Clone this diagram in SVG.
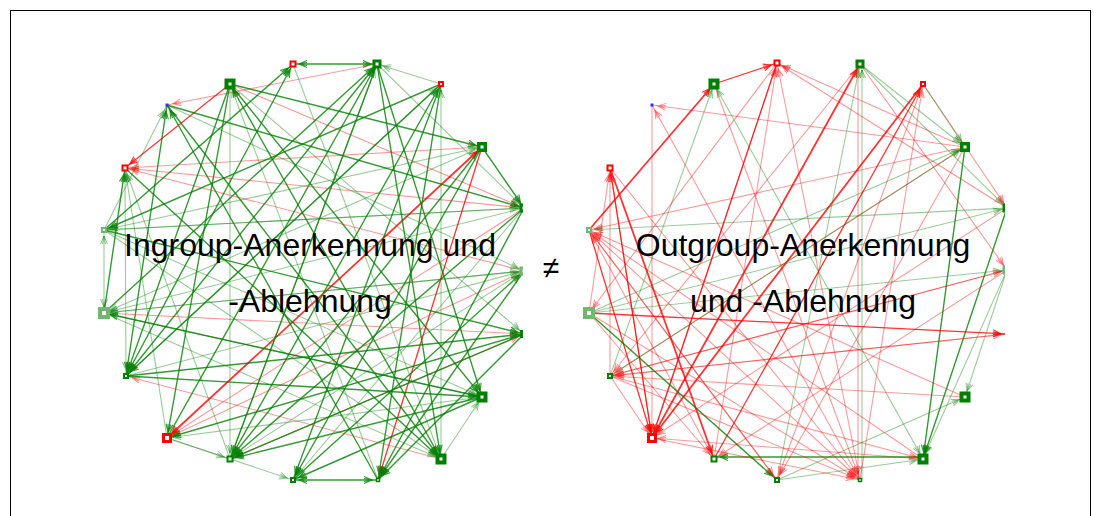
<svg xmlns="http://www.w3.org/2000/svg" width="1094" height="516" viewBox="0 0 1094 516">
<style>
  .edges line{fill:none}
  .g{stroke:#008000;stroke-opacity:.8;stroke-width:1.4;marker-end:url(#ag)}
  .gl{stroke:#008000;stroke-opacity:.4;stroke-width:1.1;marker-end:url(#agl)}
  .r{stroke:#ff0000;stroke-opacity:.8;stroke-width:1.3;marker-end:url(#ar)}
  .rl{stroke:#ff0000;stroke-opacity:.4;stroke-width:1.1;marker-end:url(#arl)}
  .g.b{marker-start:url(#ag)}
  .gl.b{marker-start:url(#agl)}
  .r.b{marker-start:url(#ar)}
  .t{stroke-width:1.8}
  .ng rect{fill:#fff;stroke:#008000}
  .nl rect{fill:#fff;stroke:#70b870}
  .nr rect{fill:#fff;stroke:#ff0000}
  .nb rect{fill:#3030ff;stroke:none}
  .lbl{font-family:"Liberation Sans",Arial,sans-serif;font-size:32px;fill:#000}
</style>
<defs>
  <marker id="ag" markerUnits="userSpaceOnUse" markerWidth="20" markerHeight="10" viewBox="-16 -5 20 10" refX="0" refY="0" orient="auto-start-reverse">
    <path d="M-14,-3.5 L-6,0 L-14,3.5 M-14,-1.5 L-6,0 L-14,1.5" fill="none" stroke="#008000" stroke-opacity=".8" stroke-width="1.1"/>
  </marker>
  <marker id="agl" markerUnits="userSpaceOnUse" markerWidth="20" markerHeight="10" viewBox="-16 -5 20 10" refX="0" refY="0" orient="auto-start-reverse">
    <path d="M-14,-3.5 L-6,0 L-14,3.5 M-14,-1.5 L-6,0 L-14,1.5" fill="none" stroke="#008000" stroke-opacity=".45" stroke-width="1"/>
  </marker>
  <marker id="ar" markerUnits="userSpaceOnUse" markerWidth="20" markerHeight="10" viewBox="-16 -5 20 10" refX="0" refY="0" orient="auto-start-reverse">
    <path d="M-14,-3.5 L-6,0 L-14,3.5 M-14,-1.5 L-6,0 L-14,1.5" fill="none" stroke="#ff0000" stroke-opacity=".8" stroke-width="1.1"/>
  </marker>
  <marker id="arl" markerUnits="userSpaceOnUse" markerWidth="20" markerHeight="10" viewBox="-16 -5 20 10" refX="0" refY="0" orient="auto-start-reverse">
    <path d="M-14,-3.5 L-6,0 L-14,3.5 M-14,-1.5 L-6,0 L-14,1.5" fill="none" stroke="#ff0000" stroke-opacity=".45" stroke-width="1"/>
  </marker>
  <clipPath id="clipL"><rect x="0" y="0" width="523" height="516"/></clipPath>
  <clipPath id="clipR"><rect x="540" y="0" width="465" height="516"/></clipPath>
</defs>

<rect x="0" y="0" width="1094" height="516" fill="#fff"/>
<rect x="10.5" y="10.5" width="1080" height="520" fill="none" stroke="#000" stroke-width="1"/>

<!-- ingroup network -->
<g id="ingroup" clip-path="url(#clipL)">
  <g id="ingroup-edges" class="edges">
    <line class="g b" x1="293" y1="64" x2="377" y2="64"/>
    <line class="rl" x1="377" y1="64" x2="167" y2="105"/>
    <line class="r" x1="230" y1="84" x2="125" y2="168"/>
    <line class="rl" x1="482" y1="147" x2="125" y2="168"/>
    <line class="rl" x1="524" y1="208" x2="125" y2="168"/>
    <line class="rl" x1="524" y1="271" x2="125" y2="168"/>
    <line class="rl" x1="230" y1="84" x2="524" y2="208"/>
    <line class="r b t" x1="167" y1="438" x2="482" y2="147"/>
    <line class="rl" x1="524" y1="208" x2="167" y2="438"/>
    <line class="rl" x1="524" y1="271" x2="167" y2="438"/>
    <line class="rl" x1="104" y1="313" x2="524" y2="334"/>
    <line class="rl" x1="230" y1="459" x2="524" y2="334"/>
    <line class="r" x1="482" y1="147" x2="378" y2="480"/>
    <line class="rl" x1="441" y1="459" x2="126" y2="376"/>
    <line class="g" x1="230" y1="84" x2="482" y2="147"/>
    <line class="gl" x1="441" y1="84" x2="377" y2="64"/>
    <line class="gl" x1="441" y1="459" x2="441" y2="84"/>
    <line class="gl" x1="230" y1="84" x2="230" y2="459"/>
    <line class="gl" x1="104" y1="230" x2="167" y2="105"/>
    <line class="g b" x1="126" y1="376" x2="167" y2="105"/>
    <line class="g" x1="378" y1="480" x2="167" y2="105"/>
    <line class="g" x1="126" y1="376" x2="482" y2="397"/>
    <line class="gl" x1="104" y1="313" x2="482" y2="397"/>
    <line class="gl" x1="104" y1="230" x2="482" y2="397"/>
    <line class="g" x1="377" y1="64" x2="482" y2="397"/>
    <line class="g" x1="230" y1="84" x2="482" y2="397"/>
    <line class="g" x1="167" y1="105" x2="441" y2="459"/>
    <line class="g" x1="125" y1="168" x2="441" y2="459"/>
    <line class="gl" x1="104" y1="230" x2="441" y2="459"/>
    <line class="gl" x1="104" y1="313" x2="441" y2="459"/>
    <line class="g" x1="377" y1="64" x2="441" y2="459"/>
    <line class="g" x1="524" y1="271" x2="378" y2="480"/>
    <line class="g" x1="524" y1="334" x2="378" y2="480"/>
    <line class="g b" x1="293" y1="480" x2="378" y2="480"/>
    <line class="g" x1="482" y1="147" x2="230" y2="459"/>
    <line class="g" x1="524" y1="208" x2="230" y2="459"/>
    <line class="gl" x1="167" y1="438" x2="230" y2="459"/>
    <line class="gl" x1="167" y1="438" x2="293" y2="480"/>
    <line class="g" x1="230" y1="84" x2="167" y2="438"/>
    <line class="g" x1="524" y1="334" x2="167" y2="438"/>
    <line class="gl" x1="482" y1="397" x2="167" y2="438"/>
    <line class="g" x1="230" y1="84" x2="126" y2="376"/>
    <line class="g" x1="377" y1="64" x2="126" y2="376"/>
    <line class="g" x1="441" y1="84" x2="126" y2="376"/>
    <line class="gl b" x1="126" y1="376" x2="125" y2="168"/>
    <line class="g" x1="104" y1="230" x2="293" y2="64"/>
    <line class="g" x1="126" y1="376" x2="293" y2="64"/>
    <line class="g" x1="104" y1="313" x2="377" y2="64"/>
    <line class="g" x1="167" y1="438" x2="377" y2="64"/>
    <line class="gl" x1="230" y1="459" x2="377" y2="64"/>
    <line class="gl" x1="126" y1="376" x2="441" y2="84"/>
    <line class="g" x1="230" y1="459" x2="441" y2="84"/>
    <line class="gl" x1="482" y1="147" x2="104" y2="313"/>
    <line class="g" x1="482" y1="147" x2="293" y2="480"/>
    <line class="gl b" x1="104" y1="230" x2="482" y2="147"/>
    <line class="g" x1="167" y1="105" x2="524" y2="208"/>
    <line class="gl" x1="104" y1="230" x2="524" y2="208"/>
    <line class="g" x1="482" y1="147" x2="524" y2="208"/>
    <line class="gl" x1="377" y1="64" x2="524" y2="208"/>
    <line class="gl" x1="104" y1="313" x2="524" y2="271"/>
    <line class="gl" x1="126" y1="376" x2="524" y2="271"/>
    <line class="g" x1="293" y1="480" x2="524" y2="271"/>
    <line class="gl" x1="167" y1="105" x2="524" y2="271"/>
    <line class="g" x1="126" y1="376" x2="524" y2="334"/>
    <line class="g" x1="104" y1="230" x2="524" y2="334"/>
    <line class="gl" x1="230" y1="84" x2="524" y2="334"/>
    <line class="gl" x1="441" y1="459" x2="482" y2="397"/>
    <line class="g" x1="441" y1="84" x2="378" y2="480"/>
    <line class="g" x1="524" y1="208" x2="378" y2="480"/>
    <line class="g" x1="441" y1="84" x2="293" y2="480"/>
    <line class="gl" x1="524" y1="208" x2="293" y2="480"/>
    <line class="g" x1="482" y1="397" x2="293" y2="480"/>
    <line class="g" x1="377" y1="64" x2="230" y2="459"/>
    <line class="gl" x1="524" y1="271" x2="230" y2="459"/>
    <line class="g" x1="482" y1="397" x2="230" y2="459"/>
    <line class="gl" x1="524" y1="208" x2="104" y2="313"/>
    <line class="g" x1="482" y1="397" x2="104" y2="313"/>
    <line class="gl" x1="524" y1="271" x2="104" y2="313"/>
    <line class="g" x1="441" y1="84" x2="104" y2="230"/>
    <line class="gl" x1="524" y1="208" x2="104" y2="230"/>
    <line class="gl b" x1="104" y1="313" x2="104" y2="230"/>
    <line class="g" x1="104" y1="313" x2="125" y2="168"/>
    <line class="gl" x1="167" y1="438" x2="125" y2="168"/>
    <line class="gl" x1="230" y1="459" x2="125" y2="168"/>
    <line class="g" x1="441" y1="459" x2="230" y2="84"/>
    <line class="gl" x1="378" y1="480" x2="230" y2="84"/>
    <line class="gl" x1="293" y1="64" x2="441" y2="459"/>
    <line class="g" x1="524" y1="334" x2="230" y2="459"/>
  </g>
  <g id="in0" class="nb"><rect x="165.5" y="103.5" width="3" height="3"/></g>
  <g id="in1" class="ng"><rect x="226.5" y="80.5" width="7" height="7" stroke-width="4"/></g>
  <g id="in2" class="nr"><rect x="290.5" y="61.5" width="5" height="5" stroke-width="2"/></g>
  <g id="in3" class="ng"><rect x="374" y="61" width="6" height="6" stroke-width="3"/></g>
  <g id="in4" class="nr"><rect x="439" y="82" width="4" height="4" stroke-width="2"/></g>
  <g id="in5" class="ng"><rect x="478.75" y="143.75" width="6.5" height="6.5" stroke-width="3.5"/></g>
  <g id="in6" class="ng"><rect x="521" y="205" width="6" height="6" stroke-width="3"/></g>
  <g id="in7" class="nl"><rect x="521" y="268" width="6" height="6" stroke-width="3"/></g>
  <g id="in8" class="ng"><rect x="521.5" y="331.5" width="5" height="5" stroke-width="3"/></g>
  <g id="in9" class="ng"><rect x="478.5" y="393.5" width="7" height="7" stroke-width="4"/></g>
  <g id="in10" class="ng"><rect x="437.5" y="455.5" width="7" height="7" stroke-width="4"/></g>
  <g id="in11" class="ng"><rect x="376.5" y="478.5" width="3" height="3" stroke-width="1.5"/></g>
  <g id="in12" class="ng"><rect x="291" y="478" width="4" height="4" stroke-width="2"/></g>
  <g id="in13" class="ng"><rect x="227.5" y="456.5" width="5" height="5" stroke-width="2"/></g>
  <g id="in14" class="nr"><rect x="163.5" y="434.5" width="7" height="7" stroke-width="3"/></g>
  <g id="in15" class="ng"><rect x="124" y="374" width="4" height="4" stroke-width="2"/></g>
  <g id="in16" class="nl"><rect x="100" y="309" width="8" height="8" stroke-width="4"/></g>
  <g id="in17" class="nl"><rect x="102" y="228" width="4" height="4" stroke-width="2"/></g>
  <g id="in18" class="nr"><rect x="122.5" y="165.5" width="5" height="5" stroke-width="2"/></g>
</g>

<!-- outgroup network -->
<g id="outgroup" clip-path="url(#clipR)">
  <g id="outgroup-edges" class="edges">
    <line class="r" x1="714" y1="84" x2="777" y2="63"/>
    <line class="rl" x1="965" y1="147" x2="652" y2="105"/>
    <line class="rl" x1="652" y1="105" x2="652" y2="438"/>
    <line class="rl" x1="860" y1="480" x2="652" y2="105"/>
    <line class="r t" x1="589" y1="230" x2="714" y2="84"/>
    <line class="gl" x1="610" y1="376" x2="714" y2="84"/>
    <line class="gl b" x1="714" y1="84" x2="923" y2="459"/>
    <line class="rl" x1="652" y1="438" x2="777" y2="63"/>
    <line class="rl" x1="714" y1="459" x2="777" y2="63"/>
    <line class="r t" x1="652" y1="438" x2="860" y2="64"/>
    <line class="rl" x1="965" y1="147" x2="777" y2="63"/>
    <line class="rl" x1="1007" y1="208" x2="777" y2="63"/>
    <line class="rl" x1="860" y1="480" x2="777" y2="63"/>
    <line class="gl" x1="777" y1="480" x2="860" y2="64"/>
    <line class="gl" x1="862" y1="480" x2="862" y2="64"/>
    <line class="rl" x1="858" y1="64" x2="858" y2="480"/>
    <line class="gl" x1="860" y1="64" x2="965" y2="147"/>
    <line class="gl" x1="860" y1="64" x2="1007" y2="208"/>
    <line class="rl" x1="860" y1="64" x2="1007" y2="270"/>
    <line class="r" x1="714" y1="459" x2="923" y2="84"/>
    <line class="rl" x1="923" y1="84" x2="1007" y2="208"/>
    <line class="gl" x1="923" y1="84" x2="965" y2="147"/>
    <line class="rl" x1="589" y1="313" x2="610" y2="168"/>
    <line class="rl" x1="610" y1="376" x2="610" y2="168"/>
    <line class="rl" x1="652" y1="438" x2="610" y2="168"/>
    <line class="gl" x1="1007" y1="208" x2="589" y2="230"/>
    <line class="rl" x1="965" y1="397" x2="589" y2="230"/>
    <line class="rl" x1="923" y1="459" x2="589" y2="230"/>
    <line class="rl" x1="777" y1="480" x2="589" y2="230"/>
    <line class="rl" x1="714" y1="459" x2="589" y2="230"/>
    <line class="rl" x1="965" y1="147" x2="589" y2="230"/>
    <line class="gl" x1="589" y1="313" x2="1007" y2="208"/>
    <line class="gl" x1="589" y1="313" x2="1007" y2="270"/>
    <line class="rl" x1="1007" y1="270" x2="610" y2="376"/>
    <line class="rl" x1="1007" y1="334" x2="610" y2="376"/>
    <line class="rl" x1="965" y1="397" x2="610" y2="376"/>
    <line class="rl" x1="965" y1="147" x2="610" y2="376"/>
    <line class="r" x1="777" y1="63" x2="652" y2="438"/>
    <line class="r t" x1="923" y1="84" x2="652" y2="438"/>
    <line class="r" x1="610" y1="168" x2="652" y2="438"/>
    <line class="r" x1="589" y1="230" x2="652" y2="438"/>
    <line class="rl" x1="610" y1="376" x2="652" y2="438"/>
    <line class="rl" x1="923" y1="459" x2="652" y2="438"/>
    <line class="r t" x1="610" y1="168" x2="714" y2="459"/>
    <line class="rl" x1="589" y1="313" x2="714" y2="459"/>
    <line class="g" x1="923" y1="457" x2="714" y2="457"/>
    <line class="g" x1="589" y1="313" x2="777" y2="480"/>
    <line class="rl" x1="589" y1="230" x2="777" y2="480"/>
    <line class="gl" x1="777" y1="480" x2="965" y2="397"/>
    <line class="gl" x1="777" y1="480" x2="923" y2="459"/>
    <line class="rl" x1="610" y1="168" x2="860" y2="480"/>
    <line class="rl" x1="589" y1="230" x2="860" y2="480"/>
    <line class="rl" x1="589" y1="313" x2="860" y2="480"/>
    <line class="rl" x1="610" y1="376" x2="860" y2="480"/>
    <line class="g" x1="965" y1="147" x2="923" y2="459"/>
    <line class="g" x1="1007" y1="208" x2="923" y2="459"/>
    <line class="gl" x1="1007" y1="270" x2="923" y2="459"/>
    <line class="rl" x1="610" y1="376" x2="923" y2="459"/>
    <line class="gl" x1="1007" y1="270" x2="965" y2="397"/>
    <line class="gl" x1="589" y1="313" x2="965" y2="147"/>
    <line class="gl" x1="610" y1="376" x2="965" y2="147"/>
    <line class="rl" x1="610" y1="376" x2="1007" y2="270"/>
    <line class="r" x1="589" y1="313" x2="1007" y2="334"/>
    <line class="rl" x1="777" y1="63" x2="589" y2="313"/>
    <line class="rl" x1="860" y1="64" x2="610" y2="376"/>
    <line class="rl" x1="923" y1="84" x2="777" y2="480"/>
    <line class="rl" x1="965" y1="147" x2="777" y2="480"/>
    <line class="rl" x1="1007" y1="208" x2="652" y2="438"/>
    <line class="rl" x1="1007" y1="270" x2="714" y2="459"/>
    <line class="rl" x1="860" y1="480" x2="923" y2="84"/>
    <line class="rl" x1="652" y1="438" x2="860" y2="480"/>
    <line class="rl" x1="714" y1="84" x2="860" y2="480"/>
    <line class="rl" x1="610" y1="376" x2="1007" y2="334"/>
  </g>
  <g id="out0" class="nb"><rect x="650.5" y="103.5" width="3" height="3"/></g>
  <g id="out1" class="ng"><rect x="710.5" y="80.5" width="7" height="7" stroke-width="4"/></g>
  <g id="out2" class="nr"><rect x="774.5" y="60.5" width="5" height="5" stroke-width="2"/></g>
  <g id="out3" class="ng"><rect x="857" y="61" width="6" height="6" stroke-width="3"/></g>
  <g id="out4" class="nr"><rect x="921" y="82" width="4" height="4" stroke-width="2"/></g>
  <g id="out5" class="ng"><rect x="961.75" y="143.75" width="6.5" height="6.5" stroke-width="3.5"/></g>
  <g id="out6" class="ng"><rect x="1004" y="205" width="6" height="6" stroke-width="3"/></g>
  <g id="out7" class="nl"><rect x="1004" y="267" width="6" height="6" stroke-width="3"/></g>
  <g id="out9" class="ng"><rect x="961.5" y="393.5" width="7" height="7" stroke-width="4"/></g>
  <g id="out10" class="ng"><rect x="919.5" y="455.5" width="7" height="7" stroke-width="4"/></g>
  <g id="out11" class="ng"><rect x="858.5" y="478.5" width="3" height="3" stroke-width="1.5"/></g>
  <g id="out12" class="ng"><rect x="775" y="478" width="4" height="4" stroke-width="2"/></g>
  <g id="out13" class="ng"><rect x="711.5" y="456.5" width="5" height="5" stroke-width="2"/></g>
  <g id="out14" class="nr"><rect x="648.5" y="434.5" width="7" height="7" stroke-width="3"/></g>
  <g id="out15" class="ng"><rect x="608" y="374" width="4" height="4" stroke-width="2"/></g>
  <g id="out16" class="nl"><rect x="585" y="309" width="8" height="8" stroke-width="4"/></g>
  <g id="out17" class="nl"><rect x="587" y="228" width="4" height="4" stroke-width="2"/></g>
  <g id="out18" class="nr"><rect x="607.5" y="165.5" width="5" height="5" stroke-width="2"/></g>
</g>

<!-- captions -->
<g id="captions" class="lbl" text-anchor="middle">
  <text x="310" y="256">Ingroup-Anerkennung und</text>
  <text x="310" y="312">-Ablehnung</text>
  <text x="551" y="278" style="font-size:30px">≠</text>
  <text x="803" y="256">Outgroup-Anerkennung</text>
  <text x="803" y="312">und -Ablehnung</text>
</g>
</svg>
